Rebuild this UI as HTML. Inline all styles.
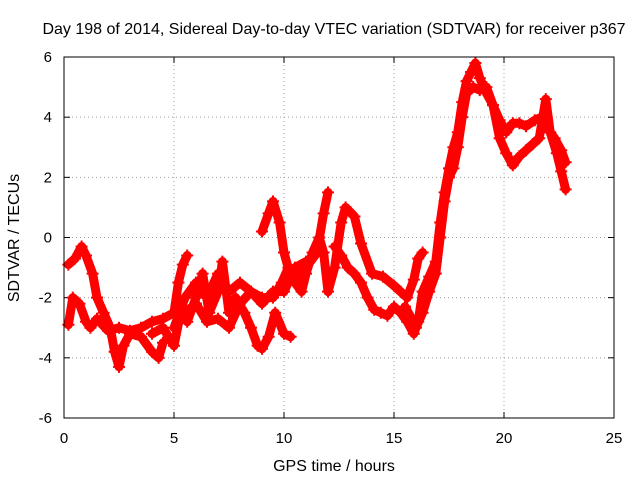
<!DOCTYPE html>
<html><head><meta charset="utf-8"><style>
body{margin:0;background:#fff;}
svg text{font-family:"Liberation Sans",sans-serif;font-size:15px;fill:#000;}
svg text.t{font-size:16px;}
</style></head><body>
<svg id="chart" width="640" height="480" xmlns="http://www.w3.org/2000/svg">
<text class="t" x="334" y="34" text-anchor="middle">Day 198 of 2014, Sidereal Day-to-day VTEC variation (SDTVAR) for receiver p367</text>
<text class="t" x="334" y="471" text-anchor="middle">GPS time / hours</text>
<text class="t" transform="translate(19,238) rotate(-90)" text-anchor="middle">SDTVAR / TECUs</text>
<g id="grid"></g><g id="ticks"></g><g id="series"></g>
<rect x="64" y="57" width="550" height="361" fill="none" stroke="#000" stroke-width="1"/>
</svg>
<script>
const xTicks=[0,5,10,15,20,25];
const yTicks=[-6,-4,-2,0,2,4,6];
const s1x=[0.2,0.5,0.8,1.0,1.3,1.5,1.8,2.1,2.3,2.5,2.7,3.0,3.5,4.0,4.3,4.5];
const s1y=[-0.9,-0.7,-0.3,-0.6,-1.2,-2.0,-2.5,-3.0,-3.8,-4.3,-3.6,-3.2,-3.3,-3.8,-4.0,-3.5];
const s2x=[0.2,0.4,0.7,1.0,1.2,1.5,2.0,2.5,3.0,3.5,4.0,4.5,5.0,5.2,5.4,5.6];
const s2y=[-2.9,-2.0,-2.2,-2.8,-3.0,-2.7,-3.1,-3.0,-3.1,-3.0,-2.8,-2.7,-2.5,-1.5,-0.9,-0.6];
const s3x=[4.0,4.5,5.0,5.3,5.6,6.0,6.3,6.6,7.0,7.2,7.5,7.8,8.2,8.5,8.8,9.0,9.3,9.6,10.0,10.3];
const s3y=[-3.2,-3.0,-3.6,-2.5,-2.8,-2.0,-1.2,-2.5,-1.8,-0.8,-2.5,-2.0,-2.5,-3.0,-3.6,-3.7,-3.3,-2.5,-3.2,-3.3];
const s4x=[5.5,6.0,6.5,7.0,7.5,8.0,8.5,9.0,9.5,9.9,10.2,10.5,11.0,11.5,11.8,12.0];
const s4y=[-2.5,-2.2,-2.8,-2.7,-3.0,-2.2,-1.8,-2.0,-2.0,-1.5,-1.0,-1.5,-1.0,-0.5,0.8,1.5];
const s5x=[9.0,9.3,9.5,9.8,10.0,10.3,10.8,11.0,11.3,11.6,11.8,12.0,12.3,12.6,12.8,13.2,13.5,14.0,14.5,15.0,15.3,15.6,15.9,16.1,16.3];
const s5y=[0.2,0.8,1.2,0.5,-0.5,-1.3,-1.8,-1.2,-0.5,0,-0.5,-1.8,-1.0,0.5,1.0,0.7,-0.2,-1.2,-1.3,-1.6,-1.8,-2.0,-1.4,-0.7,-0.5];
const s6x=[12.3,12.6,12.9,13.2,13.5,13.8,14.1,14.4,14.7,15.0,15.3,15.6,15.9,16.1,16.3,16.6,16.9,17.1,17.3,17.5,17.7,17.9,18.1,18.3,18.5,18.7,18.9,19.2,19.5,19.8,20.1,20.4,20.7,21.0,21.4,21.7,22.0,22.3,22.6,22.8];
const s6y=[-0.3,-0.6,-1.0,-1.2,-1.5,-2.0,-2.4,-2.5,-2.6,-2.3,-2.5,-2.8,-3.2,-2.8,-1.8,-1.3,-0.8,0.5,1.5,2.3,3.0,3.5,4.5,5.2,5.5,5.8,5.3,4.8,4.4,3.9,3.5,3.8,3.8,3.7,3.9,4.0,3.6,3.3,2.9,2.5];
const s7x=[15.5,15.8,16.0,16.3,16.6,16.9,17.1,17.3,17.5,17.7,17.9,18.1,18.3,18.6,18.9,19.2,19.5,19.8,20.1,20.4,20.7,21.0,21.3,21.6,21.9,22.1,22.4,22.6,22.8];
const s7y=[-2.3,-2.7,-3.0,-2.5,-1.8,-1.2,0.0,1.2,2.0,2.3,3.0,4.0,4.8,5.0,4.9,5.0,4.4,3.3,2.8,2.4,2.7,2.9,3.1,3.3,4.6,3.5,2.8,2.2,1.6];
const s8x=[5.0,5.5,6.0,6.5,7.0,7.5,8.0,8.5,9.0,9.5,10.0,10.5,11.0];
const s8y=[-3.0,-2.0,-1.5,-2.0,-1.2,-1.8,-1.5,-1.8,-2.2,-1.8,-1.8,-1.0,-0.8];
const seriesX=[s1x,s2x,s3x,s4x,s5x,s6x,s7x,s8x];
const seriesY=[s1y,s2y,s3y,s4y,s5y,s6y,s7y,s8y];
const NS="http://www.w3.org/2000/svg";
const X=v=>64+v*22, Y=v=>237.5-v*30.08;
const grid=document.getElementById('grid'),ticks=document.getElementById('ticks'),ser=document.getElementById('series');
function mk(t,a,p){const e=document.createElementNS(NS,t);for(const k in a)e.setAttribute(k,a[k]);p.appendChild(e);return e;}
xTicks.forEach(v=>{
 if(v>0&&v<25){const g=mk('line',{x1:X(v),x2:X(v),y1:57,y2:418,stroke:'#a0a0a0','stroke-dasharray':'1,3'},grid);
 
 }
 mk('line',{x1:X(v),x2:X(v),y1:418,y2:412,stroke:'#000'},ticks);
 mk('line',{x1:X(v),x2:X(v),y1:57,y2:63,stroke:'#000'},ticks);
 const t=mk('text',{x:X(v),y:443,'text-anchor':'middle'},ticks);t.textContent=v;
 
 
});
yTicks.forEach(v=>{
 if(v>-6&&v<6){const g=mk('line',{x1:64,x2:614,y1:Y(v),y2:Y(v),stroke:'#a0a0a0','stroke-dasharray':'1,3'},grid);
 
 }
 mk('line',{x1:64,x2:70,y1:Y(v),y2:Y(v),stroke:'#000'},ticks);
 mk('line',{x1:614,x2:608,y1:Y(v),y2:Y(v),stroke:'#000'},ticks);
 const t=mk('text',{x:52,y:Y(v)+5,'text-anchor':'end'},ticks);t.textContent=v;
 
 
});
seriesX.forEach((xs,i)=>{
 const ys=seriesY[i];
 const g=mk('g',{},ser);
 
 
 mk('polyline',{points:xs.map((x,j)=>X(x)+','+Y(ys[j])).join(' '),fill:'none',stroke:'#ff0000','stroke-width':9,'stroke-linejoin':'round','stroke-linecap':'round'},g);
 xs.forEach((x,j)=>{
  const p=mk('path',{d:`M${X(x)-6},${Y(ys[j])}h12M${X(x)},${Y(ys[j])-6}v12`,stroke:'#ff0000','stroke-width':2},g);
  
  
 });
});
</script>
</body></html>
